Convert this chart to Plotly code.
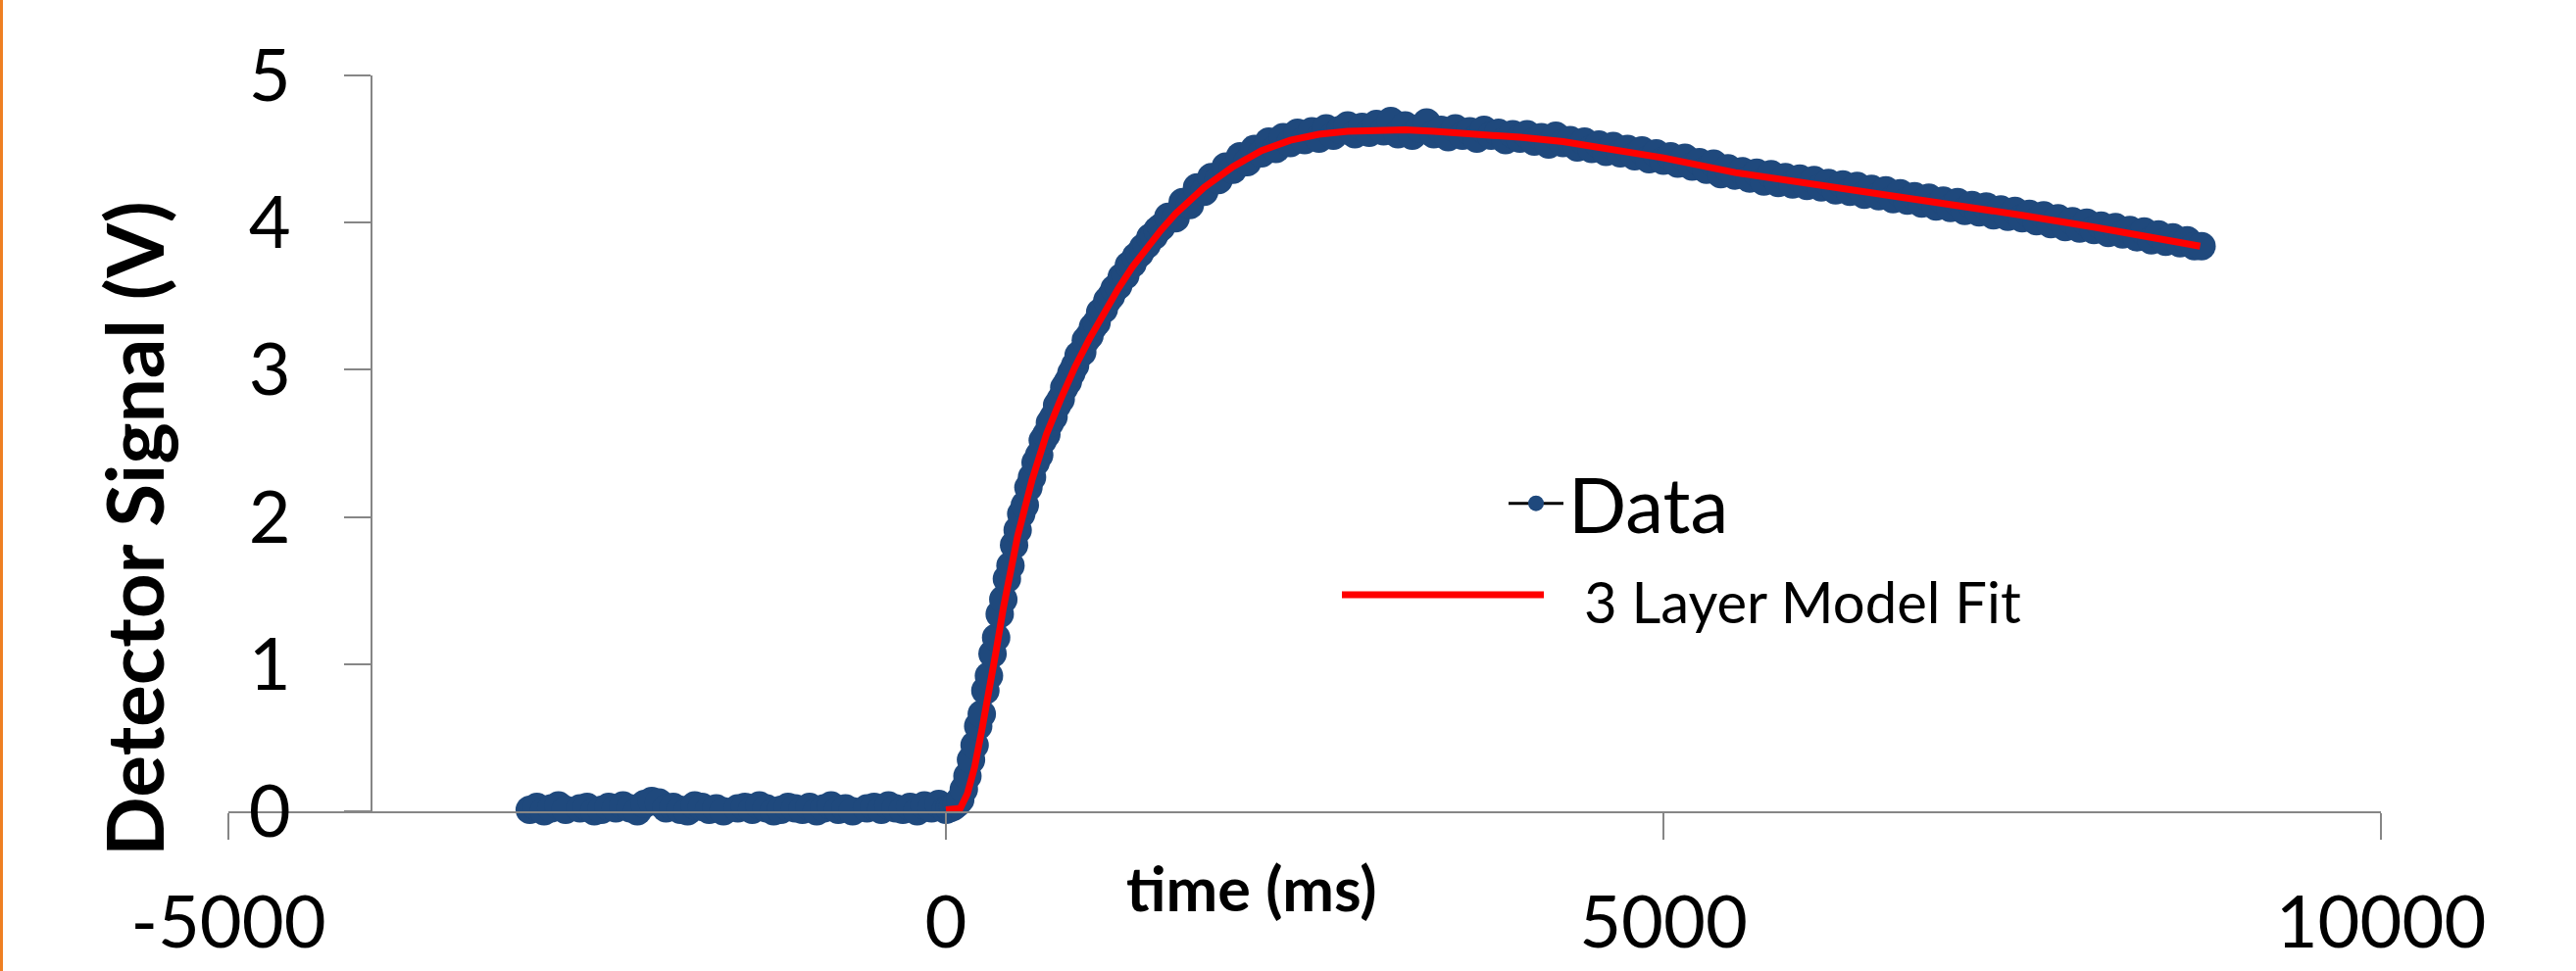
import plotly.graph_objects as go

# ---------------- data ----------------
# baseline before the pulse (50 ms sampling)
base_time = [
    -2900, -2850, -2800, -2750, -2700, -2650, -2600, -2550, -2500, -2450,
    -2400, -2350, -2300, -2250, -2200, -2150, -2100, -2050, -2000, -1950,
    -1900, -1850, -1800, -1750, -1700, -1650, -1600, -1550, -1500, -1450,
    -1400, -1350, -1300, -1250, -1200, -1150, -1100, -1050, -1000, -950,
    -900, -850, -800, -750, -700, -650, -600, -550, -500, -450,
    -400, -350, -300, -250, -200, -150, -100, -50, 0,
]
base_signal = [
    0.01, 0.03, 0.00, 0.02, 0.04, 0.01, -0.01, 0.02, 0.03, 0.00,
    0.01, 0.03, 0.02, 0.04, 0.02, 0.00, 0.05, 0.07, 0.06, 0.02,
    0.03, 0.01, 0.00, 0.04, 0.03, 0.01, 0.02, 0.00, -0.01, 0.02,
    0.03, 0.01, 0.04, 0.02, 0.00, 0.01, 0.03, 0.02, 0.01, 0.03,
    0.00, 0.02, 0.04, 0.01, 0.02, 0.00, -0.01, 0.02, 0.03, 0.01,
    0.04, 0.02, 0.01, 0.03, 0.00, 0.04, 0.02, 0.05, 0.01,
]
# rising edge (25 ms sampling)
rise_time = [
    25, 50, 75, 100, 125, 150, 175, 200, 225, 250, 275, 300, 325, 350, 375,
    400, 425, 450, 475, 500, 525, 550, 575, 600, 625, 650, 675, 700, 725, 750,
    775, 800, 825, 850, 875, 900, 925, 950, 975, 1000, 1025, 1050, 1075, 1100,
    1125, 1150, 1175, 1200, 1225, 1250, 1275, 1300, 1325, 1350, 1375, 1400,
    1425, 1450, 1475, 1500,
]
rise_signal = [
    0.02, 0.03, 0.05, 0.08, 0.15, 0.24, 0.35, 0.45, 0.58, 0.66, 0.82, 0.92, 1.07, 1.18, 1.34,
    1.44, 1.58, 1.67, 1.81, 1.91, 2.02, 2.08, 2.20, 2.27, 2.37, 2.42, 2.52, 2.56, 2.64, 2.68,
    2.76, 2.80, 2.88, 2.92, 2.98, 3.03, 3.10, 3.12, 3.20, 3.23, 3.29, 3.32, 3.39, 3.41,
    3.47, 3.50, 3.55, 3.57, 3.63, 3.64, 3.71, 3.72, 3.77, 3.79, 3.83, 3.85,
    3.90, 3.91, 3.95, 3.97,
]
# plateau and slow decay (50 ms sampling)
tail_time = [
    1550, 1600, 1650, 1700, 1750, 1800, 1850, 1900, 1950, 2000,
    2050, 2100, 2150, 2200, 2250, 2300, 2350, 2400, 2450, 2500,
    2550, 2600, 2650, 2700, 2750, 2800, 2850, 2900, 2950, 3000,
    3050, 3100, 3150, 3200, 3250, 3300, 3350, 3400, 3450, 3500,
    3550, 3600, 3650, 3700, 3750, 3800, 3850, 3900, 3950, 4000,
    4050, 4100, 4150, 4200, 4250, 4300, 4350, 4400, 4450, 4500,
    4550, 4600, 4650, 4700, 4750, 4800, 4850, 4900, 4950, 5000,
    5050, 5100, 5150, 5200, 5250, 5300, 5350, 5400, 5450, 5500,
    5550, 5600, 5650, 5700, 5750, 5800, 5850, 5900, 5950, 6000,
    6050, 6100, 6150, 6200, 6250, 6300, 6350, 6400, 6450, 6500,
    6550, 6600, 6650, 6700, 6750, 6800, 6850, 6900, 6950, 7000,
    7050, 7100, 7150, 7200, 7250, 7300, 7350, 7400, 7450, 7500,
    7550, 7600, 7650, 7700, 7750, 7800, 7850, 7900, 7950, 8000,
    8050, 8100, 8150, 8200, 8250, 8300, 8350, 8400, 8450, 8500,
    8550, 8600, 8650, 8700, 8750,
]
tail_signal = [
    4.04, 4.03, 4.14, 4.12, 4.24, 4.21, 4.31, 4.29, 4.38, 4.36,
    4.45, 4.41, 4.50, 4.47, 4.55, 4.50, 4.58, 4.54, 4.61, 4.56,
    4.62, 4.57, 4.64, 4.59, 4.63, 4.66, 4.60, 4.65, 4.61, 4.67,
    4.62, 4.69, 4.60, 4.66, 4.59, 4.64, 4.68, 4.60, 4.63, 4.58,
    4.64, 4.59, 4.62, 4.57, 4.63, 4.59, 4.61, 4.56, 4.60, 4.57,
    4.60, 4.55, 4.58, 4.53, 4.59, 4.54, 4.56, 4.51, 4.55, 4.50,
    4.53, 4.48, 4.52, 4.47, 4.50, 4.45, 4.49, 4.43, 4.47, 4.42,
    4.45, 4.40, 4.44, 4.38, 4.41, 4.36, 4.40, 4.33, 4.37, 4.32,
    4.35, 4.30, 4.34, 4.28, 4.33, 4.27, 4.31, 4.26, 4.30, 4.25,
    4.29, 4.24, 4.27, 4.22, 4.26, 4.21, 4.25, 4.19, 4.23, 4.18,
    4.22, 4.16, 4.20, 4.15, 4.18, 4.13, 4.17, 4.11, 4.15, 4.10,
    4.14, 4.08, 4.12, 4.07, 4.11, 4.05, 4.09, 4.04, 4.08, 4.03,
    4.06, 4.01, 4.05, 3.99, 4.03, 3.97, 4.01, 3.96, 4.00, 3.95,
    3.98, 3.93, 3.97, 3.92, 3.95, 3.90, 3.94, 3.88, 3.92, 3.87,
    3.90, 3.86, 3.88, 3.84, 3.84,
]

fit_time = [0, 100, 150, 200, 250, 300, 350, 400, 450, 500, 600, 700, 800, 900,
            1000, 1100, 1200, 1300, 1400, 1500, 1600, 1800, 2000, 2200, 2400,
            2600, 2800, 3000, 3200, 3400, 3600, 3800, 4000, 4300, 4600, 5000,
            5500, 6000, 6500, 7000, 7500, 8000, 8500, 8740]
fit_signal = [0.01, 0.02, 0.12, 0.30, 0.55, 0.80, 1.09, 1.38, 1.63, 1.87, 2.25,
              2.56, 2.80, 3.02, 3.21, 3.39, 3.55, 3.70, 3.83, 3.95, 4.06, 4.24,
              4.38, 4.49, 4.56, 4.60, 4.62, 4.63, 4.63, 4.62, 4.61, 4.60, 4.58,
              4.55, 4.50, 4.44, 4.34, 4.27, 4.20, 4.12, 4.05, 3.97, 3.89, 3.84]

x_tick_vals = [-5000, 0, 5000, 10000]
x_tick_text = ["-5000", "0", "5000", "10000"]
y_tick_vals = [0, 1, 2, 3, 4, 5]

data_name = "Data"
fit_name = "3 Layer Model Fit"

data_time = base_time + rise_time + tail_time
data_signal = base_signal + rise_signal + tail_signal

# ---------------- figure ----------------
W, H = 2628, 991
L, R, T, B = 233, 199, 77, 163
PW, PH = W - L - R, H - T - B


def px_x(p):
    return (p - L) / PW


def px_y(p):
    return (H - B - p) / PH


AXIS = "#868686"
FONT = "Lato"
RED = "#FF0000"

fig = go.Figure()
fig.add_trace(go.Scatter(
    x=data_time, y=data_signal, mode="lines+markers", name=data_name,
    line=dict(color="black", width=3),
    marker=dict(color="#1F497D", size=29, line=dict(width=0)),
    cliponaxis=False, showlegend=True,
))
fig.add_trace(go.Scatter(
    x=fit_time, y=fit_signal, mode="lines", name=fit_name,
    line=dict(color=RED, width=7),
    cliponaxis=False, showlegend=False,
))

fig.update_layout(
    width=W, height=H, autosize=False,
    margin=dict(l=L, r=R, t=T, b=B, autoexpand=False),
    paper_bgcolor="white", plot_bgcolor="white",
    font=dict(family=FONT, color="black"),
    xaxis=dict(
        range=[-5000, 10000], tickvals=x_tick_vals, ticktext=x_tick_text,
        showline=True, linecolor=AXIS, linewidth=2,
        ticks="outside", ticklen=27, tickwidth=2, tickcolor=AXIS,
        showgrid=False, zeroline=False, automargin=False,
        tickfont=dict(family=FONT, size=74, color="black"),
        ticklabelstandoff=21,
    ),
    yaxis=dict(
        range=[0, 5], tickvals=y_tick_vals,
        anchor="free", position=1 / 15,
        showline=True, linecolor=AXIS, linewidth=2,
        ticks="outside", ticklen=27, tickwidth=2, tickcolor=AXIS,
        showgrid=False, zeroline=False, automargin=False,
        tickfont=dict(family=FONT, size=74, color="black"),
        ticklabelstandoff=40,
    ),
    legend=dict(
        x=px_x(1534), y=px_y(514), xanchor="left", yanchor="middle",
        bgcolor="rgba(0,0,0,0)", itemwidth=56,
        font=dict(family=FONT, size=78, color="black"),
    ),
    showlegend=True,
)

# axis titles
fig.add_annotation(
    text="<b>time (ms)</b>", xref="paper", yref="paper",
    x=px_x(1277), y=px_y(905), xanchor="center", yanchor="middle",
    showarrow=False, font=dict(family=FONT, size=63, color="black"),
)
fig.add_annotation(
    text="<b>Detector Signal (V)</b>", xref="paper", yref="paper",
    x=px_x(136), y=px_y(540), xanchor="center", yanchor="middle",
    textangle=-90, showarrow=False,
    font=dict(family=FONT, size=80, color="black"),
)

# legend entry for the model fit: long red line and its label
fig.add_shape(
    type="line", xref="paper", yref="paper",
    x0=px_x(1369), x1=px_x(1575), y0=px_y(607), y1=px_y(607),
    line=dict(color=RED, width=7),
)
fig.add_annotation(
    text=fit_name, xref="paper", yref="paper",
    x=px_x(1614), y=px_y(613), xanchor="left", yanchor="middle",
    showarrow=False, font=dict(family=FONT, size=58, color="black"),
)
# orange frame edge at the left
fig.add_shape(
    type="rect", xref="paper", yref="paper",
    x0=px_x(0), x1=px_x(3), y0=px_y(H), y1=px_y(0),
    line=dict(width=0), fillcolor="#EE7F22",
)

fig.write_html(
    "out.html",
    config={"displayModeBar": False},
    post_script="document.body.style.margin='0';document.body.style.overflow='hidden';",
)
